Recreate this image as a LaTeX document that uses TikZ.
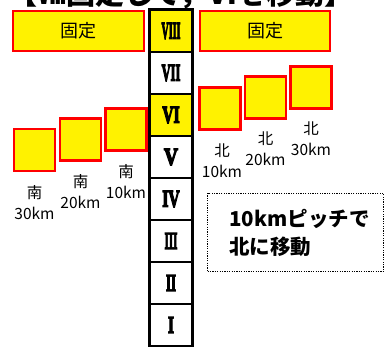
\documentclass[tikz,border=0pt]{standalone}
\usepackage{fontspec}
\setmainfont{Noto Sans CJK JP}
\newfontfamily\rmnfont[FakeBold=6]{Liberation Serif Bold}
\newcommand{\rmnum}[2]{{\rmnfont\scalebox{#1}[1]{#2}}}
\begin{document}
\begin{tikzpicture}[x=1pt,y=-1pt]
\useasboundingbox (0,0) rectangle (385,347);
\clip (0,0) rectangle (385,347);
\tikzset{
  ybox/.style={draw=red,fill=yellow,line width=2.5pt,inner sep=0pt,font=\fontsize{18}{18}\selectfont},
  sqbox/.style={ybox,minimum width=41,minimum height=42},
  cell/.style={draw=black,line width=1.5pt,minimum width=42,minimum height=42,inner sep=0pt,font=\fontsize{24}{24}\selectfont},
  ycell/.style={cell,fill=yellow},
  lbl/.style={align=center,inner sep=0pt,font=\fontsize{15.5}{21}\selectfont},
  note/.style={draw=black,line width=1.2pt,dash pattern=on 1.2pt off 1.2pt,minimum width=176,minimum height=78,inner sep=0pt}
}
% title (cut off at top)
\node[anchor=base west,inner sep=0pt,font=\bfseries\fontsize{29}{29}\selectfont] (title) at (8,4.5) {【Ⅷ固定して，Ⅵを移動】};
% fixed boxes
\node[ybox,minimum width=131,minimum height=40] (fl) at (78.5,31) {固定};
\node[ybox,minimum width=130,minimum height=40] (fr) at (265,31) {固定};
% column
\node[ycell] (c8) at (171,31) {\rmnum{0.42}{VIII}};
\node[cell]  (c7) at (171,73) {\rmnum{0.52}{VII}};
\node[ycell] (c6) at (171,115) {\rmnum{0.65}{VI}};
\node[cell]  (c5) at (171,157) {\rmnum{0.8}{V}};
\node[cell]  (c4) at (171,199) {\rmnum{0.65}{IV}};
\node[cell]  (c3) at (171,241) {\rmnum{0.45}{III}};
\node[cell]  (c2) at (171,283) {\rmnum{0.52}{II}};
\node[cell]  (c1) at (171,325) {\rmnum{0.65}{I}};
\draw[line width=2pt] (c8.north west) rectangle (c1.south east);
% south squares
\node[sqbox] (s3) at (34.5,150) {};
\node[sqbox] (s2) at (80.5,139.5) {};
\node[sqbox] (s1) at (126,129.5) {};
\node[lbl] (ls3) at ([yshift=-30pt]s3.south) {南\\30km};
\node[lbl] (ls2) at ([yshift=-30pt]s2.south) {南\\20km};
\node[lbl] (ls1) at ([yshift=-30pt]s1.south) {南\\10km};
% north squares
\node[sqbox] (n1) at (220,108.5) {};
\node[sqbox] (n2) at (265.5,97.5) {};
\node[sqbox] (n3) at (311,87.5) {};
\node[lbl] (ln1) at ([xshift=2pt,yshift=-30pt]n1.south) {北\\10km};
\node[lbl] (ln2) at ([yshift=-29pt]n2.south) {北\\20km};
\node[lbl] (ln3) at ([yshift=-29pt]n3.south) {北\\30km};
% note
\node[note] (nb) at (295.5,232.5) {};
\node[align=left,inner sep=0pt,font=\bfseries\fontsize{20.5}{28}\selectfont] (nt) at ([xshift=4pt]nb.center) {10kmピッチで\\北に移動};
\end{tikzpicture}
\end{document}
